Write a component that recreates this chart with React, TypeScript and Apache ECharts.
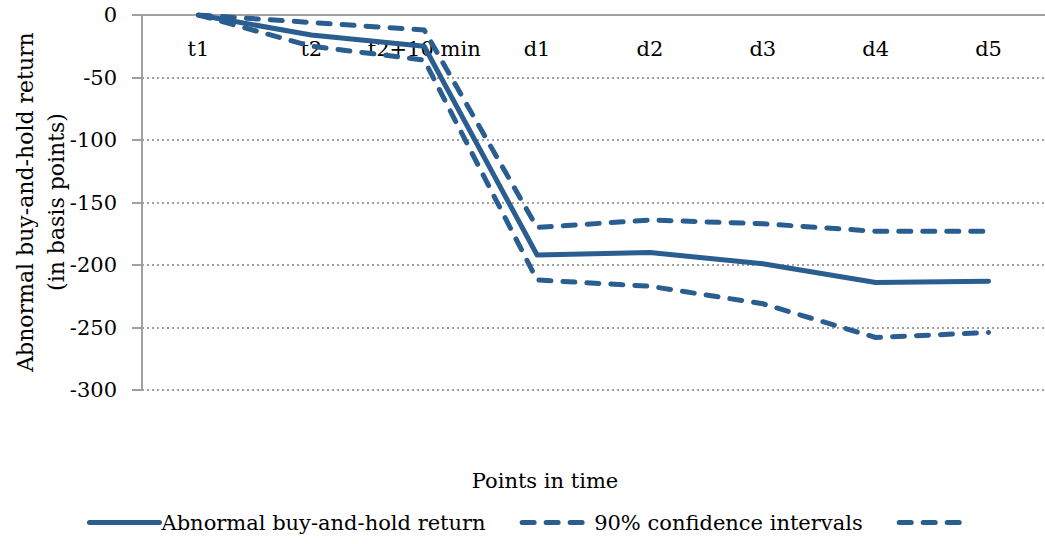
import React, { useEffect, useRef } from "react";
import * as echarts from "echarts";

const categories = ["t1", "t2", "t2+10 min", "d1", "d2", "d3", "d4", "d5"];
const abnormalReturn = [0, -16, -25, -192, -190, -199, -214, -213];
const upperCI = [0, -6, -12, -170, -164, -167, -173, -173];
const lowerCI = [0, -25, -36, -212, -217, -231, -258, -254];
const yTicks = { min: -300, max: 0, interval: 50 };

const FONT = "DejaVu Serif";
const COLOR = "#2a5d90";
const DASH = [12, 12];

export default function App() {
  const ref = useRef<HTMLDivElement>(null);
  useEffect(() => {
    if (!ref.current) return;
    const chart = echarts.init(ref.current, undefined, { renderer: "svg" });
    const lineBase = { width: 5, color: COLOR, cap: "round", join: "round" };
    chart.setOption({
      animation: false,
      textStyle: { fontFamily: FONT },
      grid: { left: 142, width: 904, top: 15, height: 375 },
      xAxis: {
        type: "category",
        data: categories,
        position: "top",
        boundaryGap: true,
        axisLine: { lineStyle: { color: "#a0a0a0", width: 2 } },
        axisTick: { inside: true, length: 8, lineStyle: { color: "#a0a0a0", width: 2 } },
        axisLabel: { inside: true, interval: 0, margin: 23, fontSize: 21, fontFamily: FONT, color: "#000" },
        splitLine: { show: false },
      },
      yAxis: {
        type: "value",
        min: yTicks.min,
        max: yTicks.max,
        interval: yTicks.interval,
        axisLine: { show: true, lineStyle: { color: "#a0a0a0", width: 2 } },
        axisTick: { show: true, length: 10, lineStyle: { color: "#a0a0a0", width: 2 } },
        axisLabel: { margin: 25, fontSize: 21, fontFamily: FONT, color: "#000" },
        splitLine: { show: true, lineStyle: { color: "#a0a0a0", width: 2, type: [2, 3] } },
      },
      legend: {
        left: 82,
        top: 507,
        itemWidth: 70,
        itemHeight: 14,
        itemGap: 34,
        itemStyle: { opacity: 0 },
        textStyle: { fontSize: 21, fontFamily: FONT, color: "#000", padding: [0, 0, 0, -3] },
        data: [
          { name: "Abnormal buy-and-hold return", itemStyle: { opacity: 0 }, lineStyle: { ...lineBase, type: "solid" } },
          { name: "90% confidence intervals", itemStyle: { opacity: 0 }, lineStyle: { ...lineBase, type: DASH } },
          { name: " ", itemStyle: { opacity: 0 }, lineStyle: { ...lineBase, type: DASH } },
        ],
      },
      graphic: [
        {
          type: "text",
          x: 41,
          y: 202,
          rotation: Math.PI / 2,
          style: {
            text: "Abnormal buy-and-hold return\n(in basis points)",
            fontSize: 22,
            fontFamily: FONT,
            fill: "#000",
            textAlign: "center",
            textVerticalAlign: "middle",
            lineHeight: 31,
          },
        },
        {
          type: "text",
          x: 545,
          y: 481,
          style: {
            text: "Points in time",
            fontSize: 21,
            fontFamily: FONT,
            fill: "#000",
            textAlign: "center",
            textVerticalAlign: "middle",
          },
        },
      ],
      series: [
        {
          name: "Abnormal buy-and-hold return",
          type: "line",
          data: abnormalReturn,
          symbol: "none",
          lineStyle: { ...lineBase, type: "solid" },
          itemStyle: { color: COLOR },
          z: 3,
        },
        {
          name: "90% confidence intervals",
          type: "line",
          data: upperCI,
          symbol: "none",
          lineStyle: { ...lineBase, type: DASH },
          itemStyle: { color: COLOR },
        },
        {
          name: " ",
          type: "line",
          data: lowerCI,
          symbol: "none",
          lineStyle: { ...lineBase, type: DASH },
          itemStyle: { color: COLOR },
        },
      ],
    });
    return () => chart.dispose();
  }, []);
  return <div ref={ref} style={{ width: 1045, height: 544, position: "absolute", left: 0, top: 0 }} />;
}
